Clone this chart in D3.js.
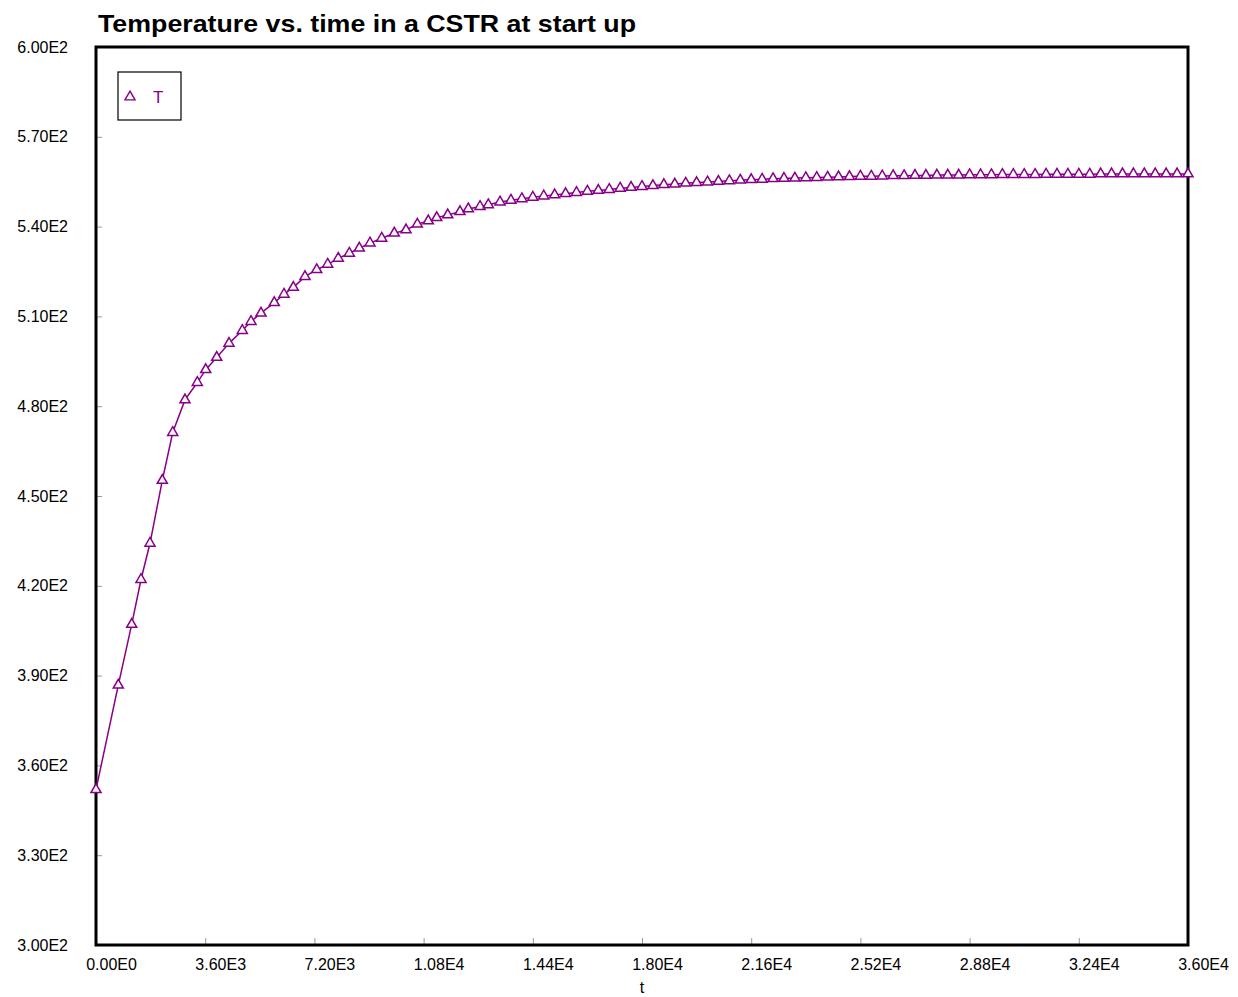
<!DOCTYPE html>
<html>
<head>
<meta charset="utf-8">
<script src="https://cdn.jsdelivr.net/npm/d3@7"></script>
<style>
  body { margin: 0; background: #fff; }
  text { font-family: "Liberation Sans", Arial, sans-serif; }
</style>
</head>
<body>
<svg id="chart" width="1238" height="997"></svg>
<script>
// time (s) and reactor temperature
const tValues = [0, 735, 1177, 1484, 1780, 2186, 2529, 2934, 3340, 3617, 3980, 4385, 4823, 5110,
  5440, 5878, 6198, 6505, 6890, 7276, 7638, 7988, 8351, 8681, 9033, 9419, 9834, 10220, 10593,
  10955, 11232, 11595, 12000, 12275, 12660, 12934,
  13320, 13680, 14040, 14400, 14760, 15120, 15480, 15840, 16200, 16560, 16920, 17280, 17640,
  18000, 18360, 18720, 19080, 19440, 19800, 20160, 20520, 20880, 21240, 21600, 21960, 22320,
  22680, 23040, 23400, 23760, 24120, 24480, 24840, 25200, 25560, 25920, 26280, 26640, 27000,
  27360, 27720, 28080, 28440, 28800, 29160, 29520, 29880, 30240, 30600, 30960, 31320, 31680,
  32040, 32400, 32760, 33120, 33480, 33840, 34200, 34560, 34920, 35280, 35640, 36000];

const TValues = [351.9, 386.8, 407.1, 422.1, 434.2, 455.2, 471.2, 482.1, 487.9, 492.2, 496.3, 501.0,
  505.3, 508.3, 511.1, 514.6, 517.4, 519.7, 523.3, 525.6, 527.4, 529.4, 531.1, 532.8, 534.5,
  536.1, 537.8, 538.9, 540.8, 541.9, 543.0, 543.9, 545.0, 545.9, 546.7, 547.3,
  548.2, 548.8, 549.3, 549.8, 550.2, 550.6, 551.0, 551.4, 551.8, 552.1, 552.4, 552.8, 553.1,
  553.4, 553.7, 554.0, 554.2, 554.5, 554.7, 554.9, 555.1, 555.3, 555.5, 555.7, 555.8, 556.0,
  556.1, 556.2, 556.3, 556.4, 556.5, 556.6, 556.7, 556.8, 556.8, 556.9, 557.0, 557.0, 557.1,
  557.1, 557.2, 557.2, 557.2, 557.3, 557.3, 557.3, 557.4, 557.4, 557.4, 557.4, 557.5, 557.5,
  557.5, 557.5, 557.5, 557.6, 557.6, 557.6, 557.6, 557.6, 557.6, 557.6, 557.6, 557.6];

const xTicks = [0, 3600, 7200, 10800, 14400, 18000, 21600, 25200, 28800, 32400, 36000];
const yTicks = [300, 330, 360, 390, 420, 450, 480, 510, 540, 570, 600];

const seriesName = "T";
const purple = "#880088";

const margin = { top: 47, right: 50, bottom: 52, left: 96 };
const width = 1238 - margin.left - margin.right;
const height = 997 - margin.top - margin.bottom;

const data = tValues.map((t, i) => ({ t: t, T: TValues[i] }));

// 3.60E3 style labels
const sci = v => v.toExponential(2).replace("e+", "E").replace("e-", "E-").toUpperCase();

const svg = d3.select("#chart");

svg.append("text")
  .attr("x", 98)
  .attr("y", 32)
  .attr("font-size", "24px")
  .attr("font-weight", "bold")
  .attr("textLength", 538)
  .attr("lengthAdjust", "spacingAndGlyphs")
  .text("Temperature vs. time in a CSTR at start up");

const g = svg.append("g")
  .attr("transform", `translate(${margin.left},${margin.top})`);

const x = d3.scaleLinear().domain([0, 36000]).range([0, width]);
const y = d3.scaleLinear().domain([300, 600]).range([height, 0]);

// y axis - ticks point inward
const yAxis = g.append("g")
  .call(d3.axisLeft(y).tickValues(yTicks).tickFormat(sci)
    .tickSizeInner(-6).tickSizeOuter(0).tickPadding(28));
yAxis.select(".domain").remove();
yAxis.selectAll(".tick line").attr("stroke", "#999");
yAxis.selectAll(".tick text")
  .attr("fill", "#000")
  .style("font-size", "16px");

// x axis
const xAxis = g.append("g")
  .attr("transform", `translate(0,${height})`)
  .call(d3.axisBottom(x).tickValues(xTicks).tickFormat(sci)
    .tickSizeInner(-7).tickSizeOuter(0).tickPadding(14));
xAxis.select(".domain").remove();
xAxis.selectAll(".tick line").attr("stroke", "#999");
xAxis.selectAll(".tick text")
  .attr("fill", "#000")
  .attr("dx", 15)
  .style("font-size", "16px");

svg.append("text")
  .attr("x", margin.left + width / 2)
  .attr("y", 993)
  .attr("text-anchor", "middle")
  .attr("font-size", "16px")
  .text("t");

// plot frame
g.append("rect")
  .attr("x", 0)
  .attr("y", 0)
  .attr("width", width)
  .attr("height", height)
  .attr("fill", "none")
  .attr("stroke", "#000")
  .attr("stroke-width", 3);

// series line
const line = d3.line().x(d => x(d.t)).y(d => y(d.T));
g.append("path")
  .datum(data)
  .attr("fill", "none")
  .attr("stroke", purple)
  .attr("stroke-width", 1.5)
  .attr("d", line);

// open triangle markers
const tri = d3.symbol().type(d3.symbolTriangle).size(44);
g.selectAll(".pt")
  .data(data)
  .enter()
  .append("path")
  .attr("class", "pt")
  .attr("transform", d => `translate(${x(d.t)},${y(d.T)})`)
  .attr("d", tri)
  .attr("fill", "#fff")
  .attr("stroke", purple)
  .attr("stroke-width", 1.5);

// legend
const legend = svg.append("g").attr("transform", "translate(118,72)");
legend.append("rect")
  .attr("width", 63)
  .attr("height", 48)
  .attr("fill", "#fff")
  .attr("stroke", "#000")
  .attr("stroke-width", 1.2);
legend.append("path")
  .attr("transform", "translate(12,25)")
  .attr("d", tri)
  .attr("fill", "#fff")
  .attr("stroke", purple)
  .attr("stroke-width", 1.4);
legend.append("text")
  .attr("x", 35)
  .attr("y", 31)
  .attr("font-size", "17px")
  .attr("fill", purple)
  .text(seriesName);
</script>
</body>
</html>
